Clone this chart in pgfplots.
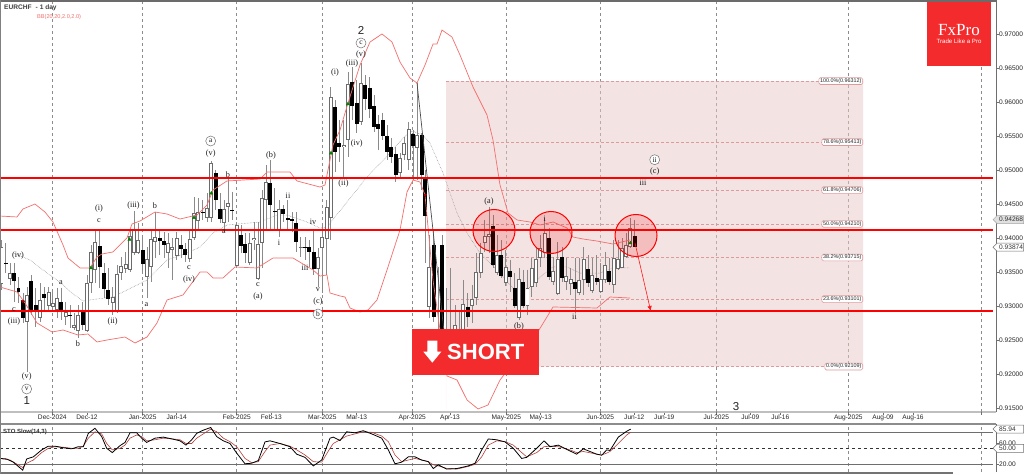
\documentclass[border=0pt]{standalone}
\usepackage{fontspec}
\usepackage{pgfplots}
\usepackage{pgfplotstable}
\usetikzlibrary{arrows.meta}
\pgfplotsset{compat=1.18}
\setmainfont{Liberation Sans}
\newfontfamily\seriffont{Liberation Serif}
\definecolor{brand}{HTML}{F42B2D}
\definecolor{wick}{HTML}{8A8A8A}
\definecolor{band}{HTML}{F2706E}
\definecolor{fibline}{HTML}{DD9A9C}
\definecolor{fibfill}{HTML}{EBC9C9}
\definecolor{gridc}{HTML}{8C8C8C}
\definecolor{axisc}{HTML}{6E6E6E}
\definecolor{stosig}{HTML}{B5403C}

% x is the chart's horizontal position, o h l c the daily prices
\pgfplotstableread{
x o h l c
1.5 0.93324 0.93972 0.93236 0.93869
5.7 0.93634 0.93928 0.93486 0.93619
10 0.93398 0.93634 0.93310 0.93486
14.3 0.93486 0.93634 0.93059 0.93369
18.6 0.93266 0.93428 0.93045 0.93207
23 0.93074 0.93192 0.92751 0.92824
27 0.92765 0.93280 0.92029 0.93163
31 0.93369 0.93457 0.92868 0.92942
35.7 0.93015 0.93266 0.92692 0.92942
40 0.92824 0.93339 0.92765 0.93089
44.3 0.93177 0.93280 0.92912 0.93118
48.7 0.93001 0.93280 0.92942 0.93207
52.7 0.92986 0.93207 0.92912 0.93045
57 0.92942 0.93266 0.92824 0.93118
61.3 0.93059 0.93266 0.92795 0.92912
65.7 0.92839 0.93059 0.92721 0.92912
70 0.92868 0.93015 0.92677 0.92854
74 0.92677 0.92898 0.92647 0.92721
78.3 0.92633 0.93015 0.92530 0.92868
82.7 0.92927 0.93059 0.92647 0.92721
87 0.92633 0.93457 0.92618 0.93339
91 0.93339 0.93899 0.93192 0.93796
95.3 0.93531 0.94119 0.93339 0.93943
99.7 0.93884 0.94119 0.93266 0.93575
104 0.93486 0.93634 0.93118 0.93251
108.3 0.93236 0.93560 0.93015 0.93104
112.7 0.93045 0.93280 0.92868 0.93133
117 0.92912 0.93604 0.92898 0.93472
121.3 0.93486 0.93722 0.93383 0.93589
125.7 0.93545 0.93796 0.93486 0.93619
130 0.93531 0.94119 0.93501 0.94031
134 0.93781 0.94399 0.93751 0.94134
138 0.93781 0.94222 0.93766 0.93972
142.7 0.93825 0.94016 0.93501 0.93619
147 0.93428 0.93869 0.93118 0.93692
151 0.93575 0.94119 0.93354 0.93987
155.3 0.93943 0.94384 0.93707 0.94016
159.7 0.94002 0.94119 0.93751 0.93957
164 0.93957 0.94090 0.93707 0.93899
168 0.93781 0.94075 0.93560 0.93928
172.3 0.93825 0.94002 0.93383 0.93869
176.7 0.93737 0.94090 0.93678 0.94002
181 0.93899 0.94046 0.93707 0.93840
185.3 0.93840 0.93928 0.93648 0.93751
189.7 0.93692 0.94134 0.93648 0.93987
194 0.94002 0.94605 0.93972 0.94370
198.3 0.94252 0.94590 0.94119 0.94384
202.7 0.94384 0.94561 0.94267 0.94370
207 0.94296 0.94664 0.94237 0.94443
211.3 0.94296 0.95135 0.94237 0.95105
215.7 0.94958 0.95003 0.94414 0.94561
220 0.94429 0.94664 0.94222 0.94281
224.3 0.94222 0.94561 0.94090 0.94429
228 0.94458 0.94885 0.94237 0.94517
232.3 0.94414 0.94679 0.94267 0.94399
236.7 0.93589 0.94237 0.93560 0.94193
241 0.94046 0.94193 0.93781 0.93884
245.3 0.93913 0.94075 0.93634 0.93781
249.7 0.93634 0.94075 0.93604 0.93928
254 0.93972 0.94237 0.93825 0.94002
258.3 0.93398 0.94237 0.93383 0.93913
262 0.93928 0.94708 0.93560 0.94590
266 0.94561 0.95076 0.94119 0.94826
270.3 0.94811 0.95150 0.94119 0.94487
274.7 0.94399 0.94738 0.94119 0.94384
279 0.94105 0.94561 0.94016 0.94429
283.3 0.94429 0.94487 0.94237 0.94355
287.7 0.94296 0.94561 0.94119 0.94267
292 0.94281 0.94384 0.94090 0.94252
296.3 0.94222 0.94384 0.93796 0.93943
300.7 0.93854 0.94016 0.93722 0.93869
305 0.93869 0.94016 0.93678 0.93854
309.3 0.93869 0.93972 0.93575 0.93796
313.7 0.93796 0.94119 0.93457 0.93545
318 0.93545 0.93854 0.93280 0.93722
322.3 0.93854 0.94193 0.93192 0.94016
326.7 0.93987 0.94561 0.93457 0.94458
330.7 0.94296 0.96224 0.93972 0.96077
335 0.95930 0.96033 0.94973 0.95268
339.3 0.95400 0.95739 0.95120 0.95341
343.7 0.95341 0.95739 0.94900 0.95371
348 0.95444 0.96445 0.95194 0.96269
352.3 0.96298 0.96519 0.95739 0.95945
356.7 0.95989 0.96327 0.95547 0.95680
361 0.95709 0.96578 0.95665 0.96283
365.3 0.96254 0.96401 0.95886 0.96048
369.7 0.96210 0.96372 0.95768 0.95901
374 0.95945 0.96107 0.95562 0.95636
378.3 0.95680 0.95812 0.95297 0.95606
382.7 0.95739 0.95842 0.95444 0.95503
387 0.95503 0.95665 0.95150 0.95268
391.3 0.95341 0.95474 0.95105 0.95194
395.7 0.95238 0.95341 0.94826 0.94929
400 0.94958 0.95253 0.94900 0.95179
404.3 0.95223 0.95488 0.95150 0.95400
408.7 0.95150 0.95709 0.95003 0.95606
413 0.95532 0.95591 0.94855 0.95356
417.3 0.95326 0.96283 0.94855 0.95518
421.7 0.95518 0.95547 0.94708 0.94929
425.3 0.94900 0.95003 0.93634 0.94325
429.3 0.92986 0.94046 0.92824 0.93575
433.7 0.93899 0.94119 0.92765 0.92839
438 0.92427 0.93575 0.92353 0.92662
442.3 0.93899 0.94046 0.92353 0.92427
446.3 0.92574 0.93266 0.92353 0.92427
450.7 0.92427 0.93560 0.92353 0.92603
455 0.92500 0.93015 0.92427 0.92721
459.3 0.92427 0.92942 0.92353 0.92647
463.3 0.92647 0.93383 0.92500 0.93030
467.7 0.92986 0.93192 0.92692 0.92839
472 0.93001 0.93310 0.92751 0.93104
476.3 0.93118 0.93781 0.93015 0.93501
480.7 0.93486 0.93928 0.93413 0.93781
484.7 0.93928 0.94267 0.93796 0.94031
489 0.94016 0.94458 0.93781 0.94060
493.3 0.94178 0.94340 0.93560 0.93604
497 0.93486 0.94046 0.93457 0.93751
501 0.93751 0.93972 0.93413 0.93442
505.7 0.93339 0.93825 0.93295 0.93575
510.3 0.93516 0.93678 0.93207 0.93428
514.7 0.93266 0.93486 0.92971 0.93001
519 0.92824 0.93560 0.92795 0.93398
523.3 0.93354 0.93531 0.92971 0.93001
527.5 0.93001 0.93531 0.92868 0.93266
531.7 0.93280 0.93707 0.93133 0.93560
536 0.93339 0.93869 0.93280 0.93692
540.3 0.93707 0.94046 0.93575 0.93854
544.7 0.93781 0.94296 0.93707 0.94075
549 0.94002 0.94149 0.93383 0.93428
553.3 0.93354 0.93722 0.93310 0.93516
557.7 0.93177 0.93943 0.93163 0.93692
562 0.93722 0.93869 0.93354 0.93413
566.3 0.93354 0.93707 0.93236 0.93442
570.7 0.93324 0.93560 0.93163 0.93398
575 0.93354 0.93707 0.92898 0.93251
579.3 0.93192 0.93707 0.93163 0.93383
583.7 0.93383 0.93869 0.93163 0.93692
588 0.93545 0.93751 0.93280 0.93339
592.3 0.93221 0.93707 0.93192 0.93457
596.7 0.93413 0.93751 0.93310 0.93354
600.7 0.93207 0.93634 0.93192 0.93398
605 0.93383 0.93796 0.93339 0.93604
609.3 0.93516 0.93707 0.93310 0.93354
613.7 0.93310 0.93972 0.93192 0.93707
618 0.93545 0.93972 0.93531 0.93692
622.3 0.93560 0.94002 0.93560 0.93854
626 0.93722 0.94075 0.93707 0.93899
630.3 0.93869 0.94296 0.93854 0.94149
634.7 0.94031 0.94268 0.93869 0.93874
}\candles

\pgfplotsset{candlebar/.style={draw=none,mark=none,error bars/.cd,y dir=minus,y explicit,error mark=none,error bar style={#1}}}

% annotations in picture pixels (y from the top)
\newcommand{\lab}[3]{\node[font=\seriffont\fontsize{8.2}{9}\selectfont,text=black!90,inner sep=0pt] at (#1pt,{(474-#2)*1pt}) {#3};}
\newcommand{\clab}[3]{\node[circle,draw=black!55,line width=.5pt,fill=white,minimum size=10pt,inner sep=0pt,font=\seriffont\fontsize{7.5}{8}\selectfont,text=black!90] at (#1pt,{(474-#2)*1pt}) {#3};}
\newcommand{\ring}[2]{\draw[red,line width=1pt,fill=red,fill opacity=.16] (#1pt,{(474-#2)*1pt}) circle[radius=21pt];}
\newcommand{\ptag}[4]{%
  \draw[draw=#4,fill=#3,line width=.5pt] (993pt,{(474-#1)*1pt}) -- (997pt,{(474-#1+4)*1pt}) -- (1023.5pt,{(474-#1+4)*1pt}) -- (1023.5pt,{(474-#1-4)*1pt}) -- (997pt,{(474-#1-4)*1pt}) -- cycle;
  \node[font=\fontsize{6.6}{8}\selectfont,text=black!80,inner sep=0pt,anchor=west] at (999pt,{(474-#1)*1pt}) {#2};}

\begin{document}
\begin{tikzpicture}[x=1pt,y=1pt]
\path[use as bounding box,clip] (0,0) rectangle (1024,474);
\fill[white] (0,0) rectangle (1024,474);

\begin{axis}[
  at={(0pt,62pt)},anchor=south west,
  scale only axis,width=996pt,height=410pt,
  xmin=0,xmax=996,ymin=0.91440,ymax=0.97476,
  clip=false,
  axis x line=bottom,axis y line=right,
  x axis line style={-,draw=black!25,line width=1.1pt},
  y axis line style={-,draw=axisc,line width=.7pt},
  tick align=outside,major tick length=2.5pt,
  tick style={draw=axisc,line width=.5pt},
  scaled y ticks=false,
  ytick={0.915,0.92,0.925,0.93,0.935,0.94,0.945,0.95,0.955,0.96,0.965,0.97},
  yticklabels={0.91500,0.92000,0.92500,0.93000,0.93500,0.94000,0.94500,0.95000,0.95500,0.96000,0.96500,0.97000},
  yticklabel style={font=\fontsize{6.6}{8}\selectfont,text=black!85,inner sep=0pt,xshift=.5pt},
  xtick={87,176.7,271.3,356.7,450,540.7,634.3,664.3,750.3,780.3,883,913},
  xticklabels={Dec-12,Jan-14,Feb-13,Mar-13,Apr-13,May-13,Jun-12,Jun-19,Jul-09,Jul-16,Aug-09,Aug-16},
  extra x ticks={52.3,142.7,236.7,322.3,412.3,506.3,600.3,716.3,848.3,981.3},
  extra x tick labels={Dec-2024,Jan-2025,Feb-2025,Mar-2025,Apr-2025,May-2025,Jun-2025,Jul-2025,Aug-2025,},
  extra x tick style={grid=major,grid style={dashed,gridc,line width=.45pt}},
  xticklabel style={font=\fontsize{6.6}{8}\selectfont,text=black!85,inner sep=0pt,yshift=-.5pt},
]
% fibonacci block
\addplot[draw=none,fill=fibfill,fill opacity=.5] coordinates {(446,0.92109)(863,0.92109)(863,0.96312)(446,0.96312)} \closedcycle;
\pgfplotsinvokeforeach{0.96312,0.95413,0.94706,0.94210,0.93715,0.93101,0.92109}{
  \addplot[fibline,densely dashed,line width=.6pt] coordinates {(446,#1)(863,#1)};
}
% middle band
\addplot[gray,densely dotted,line width=.5pt] coordinates {(13,0.93781)(30,0.93678)(43,0.93531)(61,0.93339)(72,0.93192)(83,0.93074)(97,0.93104)(113,0.93133)(133,0.93280)(147,0.93383)(167,0.93678)(187,0.93781)(200,0.93869)(213,0.94075)(227,0.94193)(260,0.94237)(277,0.94340)(287,0.94340)(307,0.94237)(320,0.94149)(327,0.94164)(343,0.94458)(367,0.94900)(390,0.95253)(403,0.95474)(412,0.95577)(423,0.95518)(430,0.95400)(443,0.94958)(457,0.94370)(467,0.94075)(480,0.93781)(497,0.93531)(513,0.93266)(527,0.93236)(540,0.93428)(553,0.93575)(567,0.93575)(580,0.93486)(600,0.93486)(613,0.93560)(630,0.93560)};
% wicks
\addplot[candlebar={wick,line width=.8pt}]
  table[x=x,y=h,y error minus expr=\thisrow{h}-\thisrow{l}] {\candles};
% up days: outline, then white inside
\addplot[candlebar={black!58,line width=3.7pt}]
  table[x=x,y expr={\thisrow{c}>\thisrow{o}?\thisrow{c}:nan},y error minus expr=\thisrow{c}-\thisrow{o}] {\candles};
\addplot[candlebar={white,line width=2.3pt}]
  table[x=x,y expr={\thisrow{c}>\thisrow{o}?\thisrow{c}-0.0001:nan},y error minus expr={max(\thisrow{c}-\thisrow{o}-0.0002,0)}] {\candles};
% down days
\addplot[candlebar={black,line width=3.7pt}]
  table[x=x,y expr={\thisrow{c}<\thisrow{o}?\thisrow{o}:nan},y error minus expr=\thisrow{o}-\thisrow{c}] {\candles};
% bollinger upper and lower
\addplot[band,line width=.7pt] coordinates {(0,0.94325)(17,0.94311)(23,0.94429)(35,0.94502)(45,0.94384)(53,0.94237)(63,0.93899)(68,0.93707)(80,0.93560)(90,0.93560)(97,0.93722)(102,0.93766)(113,0.93796)(120,0.93899)(127,0.94002)(132,0.94208)(140,0.94252)(155,0.94384)(167,0.94355)(180,0.94281)(197,0.94340)(207,0.94487)(213,0.94708)(227,0.94841)(260,0.94870)(267,0.94973)(290,0.94973)(297,0.94841)(320,0.94752)(325,0.94782)(328,0.95003)(333,0.95371)(340,0.95591)(348,0.95989)(360,0.96548)(370,0.96887)(382,0.97005)(392,0.96887)(400,0.96592)(410,0.96357)(417,0.96283)(425,0.96548)(433,0.96857)(437,0.96857)(442,0.97063)(452,0.96960)(460,0.96695)(473,0.96224)(487,0.95812)(493,0.95444)(500,0.94782)(508,0.94370)(517,0.94267)(530,0.94237)(540,0.94193)(553,0.94237)(567,0.94149)(573,0.94016)(583,0.93987)(597,0.93957)(613,0.93913)(630,0.93972)};
\addplot[band,line width=.7pt] coordinates {(0,0.93280)(17,0.93207)(25,0.93045)(37,0.92751)(52,0.92618)(63,0.92647)(78,0.92574)(88,0.92588)(97,0.92471)(107,0.92500)(125,0.92544)(135,0.92456)(147,0.92544)(157,0.92751)(167,0.93089)(183,0.93163)(200,0.93501)(207,0.93501)(213,0.93413)(223,0.93413)(235,0.93575)(257,0.93560)(273,0.93707)(293,0.93707)(313,0.93531)(320,0.93442)(327,0.93457)(330,0.93192)(340,0.93148)(345,0.93133)(350,0.92971)(360,0.92912)(368,0.92942)(377,0.93089)(387,0.93531)(400,0.94119)(407,0.94679)(413,0.94855)(420,0.94826)(425,0.94635)(433,0.93383)(440,0.92647)(447,0.91970)(457,0.91911)(467,0.91617)(478,0.91485)(488,0.91543)(500,0.91911)(539,0.92647)(553,0.92986)(597,0.92971)(610,0.93133)(630,0.93118)};
% fib diagonal
\addplot[black!70,line width=.7pt] coordinates {(417,0.96283)(446,0.92353)};
% signal arrows
\addplot[only marks,mark=triangle*,mark size=1.9pt,color=green!50!black] coordinates {(91,0.93560)(129.5,0.93980)(194,0.94300)(211.3,0.94660)(331,0.95250)(348,0.95974)(630.3,0.93928)};
\addplot[only marks,mark=triangle*,mark size=1.7pt,mark options={rotate=180},color=red!60!black] coordinates {(22.7,0.93070)(425.3,0.94635)};
% support and resistance
\pgfplotsinvokeforeach{0.94885,0.94119,0.92927}{
  \addplot[red,line width=1.5pt] coordinates {(0,#1)(993,#1)};
}
% fib tags
\node[draw=fibline,fill=white,rounded corners=1.5pt,line width=.6pt,inner xsep=1.2pt,inner ysep=.9pt,anchor=east,font=\fontsize{5.4}{6}\selectfont,text=black!85] at (axis cs:863,0.96312) {100.0\%(0.96312)};
\node[draw=fibline,fill=white,rounded corners=1.5pt,line width=.6pt,inner xsep=1.2pt,inner ysep=.9pt,anchor=east,font=\fontsize{5.4}{6}\selectfont,text=black!85] at (axis cs:863,0.95413) {78.6\%(0.95413)};
\node[draw=fibline,fill=white,rounded corners=1.5pt,line width=.6pt,inner xsep=1.2pt,inner ysep=.9pt,anchor=east,font=\fontsize{5.4}{6}\selectfont,text=black!85] at (axis cs:863,0.94706) {61.8\%(0.94706)};
\node[draw=fibline,fill=white,rounded corners=1.5pt,line width=.6pt,inner xsep=1.2pt,inner ysep=.9pt,anchor=east,font=\fontsize{5.4}{6}\selectfont,text=black!85] at (axis cs:863,0.94210) {50.0\%(0.94210)};
\node[draw=fibline,fill=white,rounded corners=1.5pt,line width=.6pt,inner xsep=1.2pt,inner ysep=.9pt,anchor=east,font=\fontsize{5.4}{6}\selectfont,text=black!85] at (axis cs:863,0.93715) {38.2\%(0.93715)};
\node[draw=fibline,fill=white,rounded corners=1.5pt,line width=.6pt,inner xsep=1.2pt,inner ysep=.9pt,anchor=east,font=\fontsize{5.4}{6}\selectfont,text=black!85] at (axis cs:863,0.93101) {23.6\%(0.93101)};
\node[draw=fibline,fill=white,rounded corners=1.5pt,line width=.6pt,inner xsep=1.2pt,inner ysep=.9pt,anchor=east,font=\fontsize{5.4}{6}\selectfont,text=black!85] at (axis cs:863,0.92109) {0.0\%(0.92109)};
\end{axis}

\begin{axis}[
  at={(0pt,2pt)},anchor=south west,
  scale only axis,width=996pt,height=48pt,
  xmin=0,xmax=996,ymin=5.56,ymax=95.56,
  axis x line=top,axis y line=right,
  x axis line style={-,draw=black!45,line width=1.1pt},
  y axis line style={-,draw=axisc,line width=.7pt},
  tick align=outside,major tick length=2.5pt,
  tick style={draw=axisc,line width=.5pt},
  xtick=\empty,xticklabels={},
  extra x ticks={52.3,142.7,236.7,322.3,412.3,506.3,600.3,716.3,848.3,981.3},
  extra x tick labels={},
  extra x tick style={grid=major,grid style={dashed,gridc,line width=.45pt},major tick length=0pt},
  ytick={20,60},yticklabels={20.00,60.00},
  yticklabel style={font=\fontsize{6.6}{8}\selectfont,text=black!85,inner sep=0pt,xshift=.5pt},
]
\addplot[axisc,line width=.8pt] coordinates {(0,80)(993,80)};
\addplot[axisc,line width=.8pt] coordinates {(0,20)(993,20)};
\addplot[black!80,dashed,line width=.6pt] coordinates {(0,50)(993,50)};
\addplot[stosig,line width=.6pt] coordinates {(0,31)(10,28)(22.7,14)(26.7,22)(33.3,28)(41.7,42)(48.3,50)(55,53)(63.3,52)(71.7,50)(78.3,50)(83.3,54)(88.3,69)(95,81)(101.7,77)(106.7,59)(112.3,47)(120,50)(125,56)(130,69)(136.7,75)(141.7,72)(146.7,64)(155,66)(163.3,69)(173.3,67.5)(180,66)(186,59)(191.7,59)(196.7,69)(203.3,77)(210.7,86)(216.7,81)(223.3,69)(230,62.5)(236.7,53)(245,31)(251.7,23)(258.3,25)(265,44)(270,56)(280,59)(290,54)(296.7,47)(305,37.5)(313.3,25)(321.7,24)(330,50)(333.3,59)(340,66)(346.7,73)(355,77)(363.3,81)(371.7,80)(381.7,73)(388.3,62.5)(395,37.5)(401.7,25)(408.3,28)(415,31)(421.7,28)(428.3,25)(433.3,19)(438.3,17)(446.7,12.5)(456.7,11)(468.3,16)(475,20)(481.7,34)(488.3,56)(496.7,64)(505,62.5)(513.3,56)(521.7,42)(526.7,34)(536.7,42)(544,53)(550,54)(558.3,53)(570,47)(576.7,42)(583.3,44)(596.7,39)(601.7,37.5)(606.7,41)(610,44)(618.3,59)(626.7,75)(630.7,80)};
\addplot[black,line width=.8pt] coordinates {(0,31)(6.7,30)(13.3,24)(22.7,9)(26.7,30)(33.3,34)(41.7,47)(48.3,54)(55,54)(63.3,51)(71.7,49)(78.3,53)(83.3,53)(88.3,78)(95,87.5)(101.7,72)(106.7,50)(112.3,42)(120,55)(125,61)(130,79)(136.7,79)(141.7,69)(146.7,61)(155,69)(163.3,71)(173.3,67)(180,64)(186,56)(191.7,66)(196.7,78)(203.3,84)(210.7,89)(216.7,72)(223.3,64)(230,59)(236.7,41)(245,21)(251.7,22)(258.3,27)(265,62)(270,64)(280,59)(290,53)(296.7,39)(305,33)(313.3,17)(321.7,28)(330,69)(333.3,71)(340,64.5)(346.7,81)(355,79)(363.3,83)(371.7,77)(381.7,69)(388.3,47)(395,21)(401.7,24)(408.3,34)(415,34)(421.7,28)(428.3,25)(433.3,12)(438.3,19)(446.7,11)(456.7,12)(468.3,17)(475,22)(481.7,47)(488.3,67.5)(496.7,66)(505,62)(513.3,50)(521.7,31)(526.7,33)(536.7,50)(544,64)(550,53)(558.3,56)(570,45)(576.7,39)(583.3,49)(596.7,39)(601.7,37)(606.7,47)(610,46)(618.3,71)(626.7,82)(630.7,85.94)};
\end{axis}

% frame
\fill[black!58] (0,472) rectangle (997,474);
\fill[black!55] (0,0) rectangle (953,2);
\fill[black!50] (0,0) rectangle (.8,474);

% circles and target arrow
\ring{494}{230.5}
\ring{551}{232.5}
\ring{636}{235.5}
\draw[red!90,line width=.6pt,-{Latex[length=5pt,width=4.5pt]}] (635pt,231pt) -- (650.7pt,163pt);

% price tags
\ptag{219.6}{0.94268}{black!12}{black!35}
\ptag{247.2}{0.93874}{white}{black!55}
\ptag{429}{85.94}{white}{black!55}
\ptag{448.3}{50.00}{white}{black!55}

% titles
\node[anchor=west,inner sep=0pt,font=\bfseries\fontsize{6.6}{8}\selectfont,text=black!75] at (4pt,466pt) {EURCHF\,\, - 1 day};
\node[anchor=west,inner sep=0pt,font=\fontsize{5.6}{7}\selectfont,text=band] at (37pt,457pt) {BB(20,20,2.0,2.0)};
\node[anchor=west,inner sep=0pt,font=\bfseries\fontsize{6}{7}\selectfont,text=black!80] at (3pt,42.3pt) {STO Slow(14,3)};

% wave labels
\lab{18}{256}{(iv)} \lab{14}{310}{c} \lab{14}{322}{(iii)} \lab{26.7}{377}{(v)}
\clab{26.7}{389}{v}
\node[font=\fontsize{11.5}{12}\selectfont,inner sep=0pt,text=black!85] at (26.7pt,73pt) {1};
\lab{61}{283}{a} \lab{78}{344}{b} \lab{112.7}{322}{(ii)} \lab{99}{209}{(i)} \lab{99}{221}{c}
\lab{133.5}{205.5}{(iii)} \lab{155}{206}{b} \lab{146.5}{305}{a} \lab{189}{268}{c} \lab{189}{279.5}{(iv)}
\clab{210.7}{141}{a}
\lab{210.7}{153.5}{(v)} \lab{228}{175}{b} \lab{271}{156}{(b)} \lab{288}{196}{ii} \lab{224}{232}{a}
\lab{258}{285}{c} \lab{258}{297}{(a)} \lab{279}{243}{i} \lab{313}{222}{iv} \lab{305}{268}{iii}
\lab{318}{290}{v} \lab{318}{302}{(c)}
\clab{318}{314}{b}
\lab{335}{73}{(i)} \lab{343.5}{183.5}{(ii)} \lab{352}{63.5}{(iii)} \lab{356.7}{144}{(iv)} \lab{361}{55}{(v)}
\clab{361}{43}{c}
\node[font=\fontsize{11.5}{12}\selectfont,inner sep=0pt,text=black!85] at (361pt,443.5pt) {2};
\lab{489}{201.5}{(a)} \lab{544.7}{218.5}{i} \lab{519}{327}{(b)} \lab{574.5}{317}{ii} \lab{643}{183}{iii}
\lab{654.7}{172}{(c)}
\clab{654.7}{159.7}{ii}
\node[font=\fontsize{11.5}{12}\selectfont,inner sep=0pt,text=black!85] at (736pt,67pt) {3};

% short box
\fill[brand] (412pt,99.3pt) rectangle (538.7pt,144.7pt);
\fill[white] (427.3pt,133.3pt) -- (437.3pt,133.3pt) -- (437.3pt,122.3pt) -- (441.3pt,122.3pt) -- (432.3pt,111.3pt) -- (423.3pt,122.3pt) -- (427.3pt,122.3pt) -- cycle;
\node[anchor=west,inner sep=0pt,font=\bfseries\fontsize{22}{24}\selectfont,text=white] at (447pt,122.4pt) {SHORT};

% logo
\fill[brand] (927pt,408.3pt) rectangle (991pt,472pt);
\node[font=\seriffont\fontsize{17}{18}\selectfont,text=white,inner sep=0pt] at (959pt,444pt) {FxPro};
\node[font=\fontsize{6.1}{7}\selectfont,text=white,inner sep=0pt] at (959pt,432.5pt) {Trade Like a Pro};
\end{tikzpicture}
\end{document}
